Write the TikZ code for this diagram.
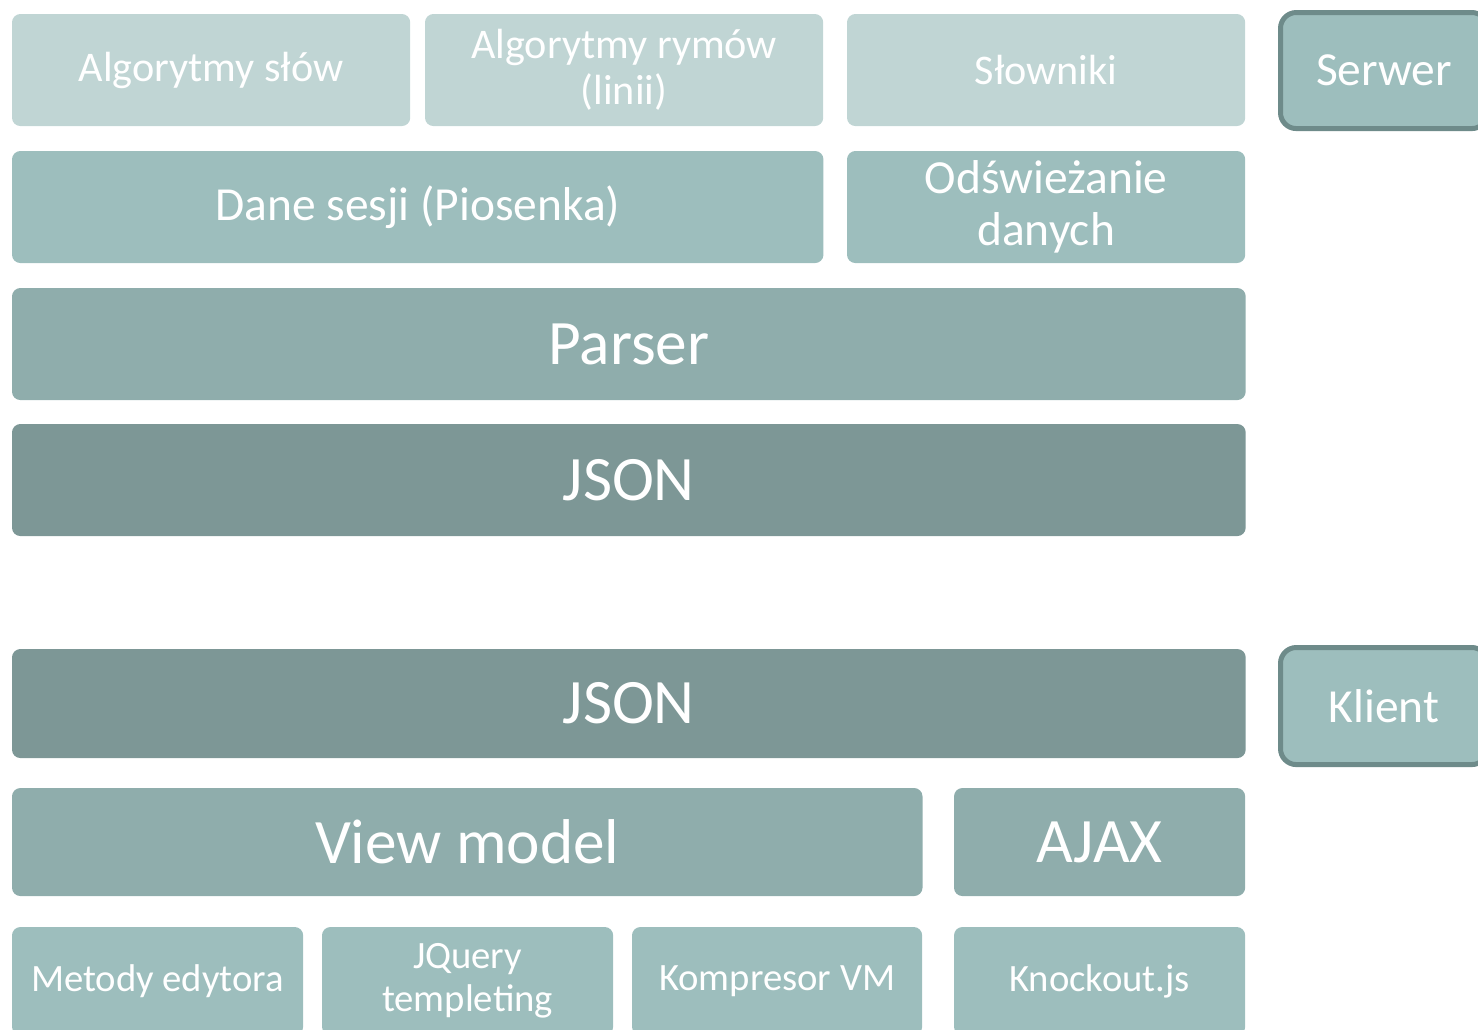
\documentclass[tikz,border=0pt]{standalone}
\usepackage{fontspec}
\setmainfont{Carlito}
\usepackage{xcolor}
\usepackage{tikz}
\usetikzlibrary{positioning}
\definecolor{paleteal}{RGB}{192, 213, 212}
\definecolor{midteal}{RGB}{157, 190, 189}
\definecolor{deepteal}{RGB}{143, 173, 172}
\definecolor{jsonteal}{RGB}{125, 151, 150}
\definecolor{edgeteal}{RGB}{110, 139, 138}

\begin{document}
\begin{tikzpicture}[
  x=0.01cm, y=-0.01cm,
  block/.style={rounded corners=2.4pt, anchor=north west, inner sep=2pt, outer sep=0pt, text=white, align=center},
  tier/.style={block, draw=edgeteal, fill=midteal, line width=1.42pt, rounded corners=4.5pt, font=\fontsize{13.5}{15}\selectfont},
  libbox/.style={block, fill=paleteal, minimum height=1.12cm, font=\fontsize{12}{13}\selectfont},
  databox/.style={block, fill=midteal, minimum height=1.12cm, font=\fontsize{13.5}{14.8}\selectfont},
  corebox/.style={block, fill=deepteal, font=\fontsize{18}{20}\selectfont},
  jsonbox/.style={block, fill=jsonteal, font=\fontsize{18}{20}\selectfont},
  toolbox/.style={block, fill=midteal, minimum height=1.08cm, font=\fontsize{11}{12.2}\selectfont},
]
\useasboundingbox (0,0) rectangle (1478,1030);
\clip (0,0) rectangle (1478,1030);

% ==================== Serwer ====================
\node[libbox, minimum width=3.98cm] (slowa) at (12,14) {Algorytmy słów};
\node[libbox, minimum width=3.98cm] (rymy) at (425,14) {Algorytmy rymów\\(linii)};
\node[libbox, minimum width=3.98cm] (slowniki) at (847,14) {Słowniki};
\node[tier, minimum width=2.07cm, minimum height=1.16cm] (serwer) at (1280.5,12.5) {Serwer};

\node[databox, minimum width=8.11cm] (sesja) at (12,151) {Dane sesji (Piosenka)};
\node[databox, minimum width=3.98cm] (odswiez) at (847,151) {Odświeżanie\\danych};

\node[corebox, minimum width=12.33cm, minimum height=1.12cm] (parser) at (12,288) {Parser};
\node[jsonbox, minimum width=12.33cm, minimum height=1.12cm] (jsonsrv) at (12,424) {JSON};

% ==================== Klient ====================
\node[jsonbox, minimum width=12.33cm, minimum height=1.09cm] (jsonkli) at (12,649) {JSON};
\node[tier, minimum width=2.07cm, minimum height=1.17cm] (klient) at (1280.5,647.5) {Klient};

\node[corebox, minimum width=9.10cm, minimum height=1.08cm] (viewmodel) at (12,788) {View model};
\node[corebox, minimum width=2.91cm, minimum height=1.08cm] (ajax) at (954,788) {AJAX};

\node[toolbox, minimum width=2.91cm] (metody) at (12,927) {Metody edytora};
\node[toolbox, minimum width=2.91cm] (jquery) at (322,927) {JQuery\\templeting};
\node[toolbox, minimum width=2.90cm] (kompresor) at (632,927) {Kompresor VM};
\node[toolbox, minimum width=2.91cm] (knockout) at (954,927) {Knockout.js};

\end{tikzpicture}
\end{document}
